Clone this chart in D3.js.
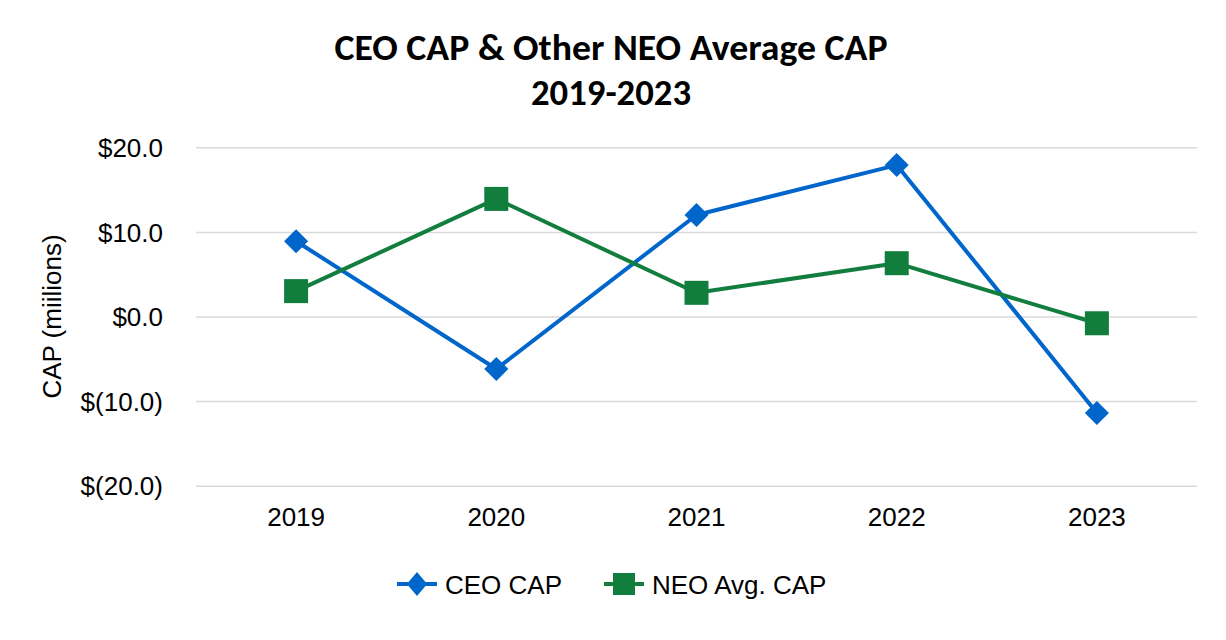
<!DOCTYPE html>
<html><head><meta charset="utf-8">
<script src="https://cdn.jsdelivr.net/npm/d3@7"></script>
<style>body{margin:0;background:#fff}svg{display:block}</style>
</head><body>
<svg id="c" width="1226" height="640"></svg>
<script>
const years = ["2019","2020","2021","2022","2023"];
const ceoCap = [8.9, -6.2, 12.0, 17.9, -11.4];
const neoAvgCap = [3.0, 13.9, 2.8, 6.3, -0.8];
const yTicks = [-20, -10, 0, 10, 20];
const seriesNames = ["CEO CAP", "NEO Avg. CAP"];

(function(){
const svg = d3.select("#c");
const pL = 196, pR = 1197, pT = 147.3, pB = 485.7;
const blue = "#0066CC", green = "#117E3E";
const font = "'Liberation Sans', Arial, sans-serif";

const x = d3.scaleBand().domain(years).range([pL, pR]).padding(0);
const y = d3.scaleLinear().domain([-20, 20]).range([pB, pT]);
const cx = d => x(d) + x.bandwidth() / 2;

// title
const t = svg.append("text").attr("x", 611).attr("text-anchor", "middle")
  .attr("font-family", "Carlito, Calibri, 'Open Sans', sans-serif").attr("font-weight", "bold")
  .attr("font-size", 36).attr("fill", "#000");
t.append("tspan").attr("x", 611).attr("y", 60).attr("textLength", 553).attr("lengthAdjust", "spacingAndGlyphs")
  .text("CEO CAP & Other NEO Average CAP");
t.append("tspan").attr("x", 611).attr("y", 105).attr("textLength", 160).attr("lengthAdjust", "spacingAndGlyphs")
  .text("2019-2023");

// grid
const yAxis = d3.axisLeft(y).tickValues(yTicks).tickSize(-(pR - pL)).tickPadding(33)
  .tickFormat(v => v < 0 ? "$(" + Math.abs(v).toFixed(1) + ")" : "$" + v.toFixed(1));
const gy = svg.append("g").attr("transform", `translate(${pL},0)`).call(yAxis);
gy.select(".domain").remove();
gy.selectAll(".tick line").attr("stroke", "#d9d9d9").attr("stroke-width", 1.5);
gy.selectAll(".tick text").attr("font-family", font)
  .attr("font-size", 26).attr("fill", "#000").attr("dy", "0.35em");

const xAxis = d3.axisBottom(x).tickSize(0).tickPadding(0);
const gx = svg.append("g").attr("transform", `translate(0,${pB})`).call(xAxis);
gx.select(".domain").remove();
gx.selectAll(".tick text").attr("font-family", font).attr("dy", null)
  .attr("y", 40).attr("font-size", 26).attr("fill", "#000");

// y title
svg.append("text").attr("transform", `translate(61,${(pT + pB) / 2}) rotate(-90)`)
  .attr("text-anchor", "middle").attr("font-family", font)
  .attr("font-size", 26).attr("fill", "#000").text("CAP (miilions)");

const line = d3.line().x((d, i) => cx(years[i])).y(d => y(d));

function drawSeries(vals, color, shape) {
  svg.append("path").datum(vals).attr("d", line).attr("fill", "none")
    .attr("stroke", color).attr("stroke-width", 4).attr("stroke-linejoin", "round");
  const g = svg.append("g");
  vals.forEach((v, i) => {
    if (shape === "diamond") {
      g.append("rect").attr("x", -8.5).attr("y", -8.5).attr("width", 17).attr("height", 17)
        .attr("fill", color).attr("transform", `translate(${cx(years[i])},${y(v)}) rotate(45)`);
    } else {
      g.append("rect").attr("x", cx(years[i]) - 12).attr("y", y(v) - 12)
        .attr("width", 24).attr("height", 24).attr("fill", color);
    }
  });
}
drawSeries(ceoCap, blue, "diamond");
drawSeries(neoAvgCap, green, "square");

// legend
const legY = 584;
function legend(x0, color, shape, label) {
  svg.append("line").attr("x1", x0).attr("x2", x0 + 40).attr("y1", legY).attr("y2", legY)
    .attr("stroke", color).attr("stroke-width", 4);
  if (shape === "diamond") {
    svg.append("rect").attr("x", -8).attr("y", -8).attr("width", 16).attr("height", 16)
      .attr("fill", color).attr("transform", `translate(${x0 + 20},${legY}) scale(0.9,1.05) rotate(45)`);
  } else {
    svg.append("rect").attr("x", x0 + 9).attr("y", legY - 11).attr("width", 22).attr("height", 22).attr("fill", color);
  }
  svg.append("text").attr("x", x0 + 48).attr("y", legY + 9.5)
    .attr("font-family", font).attr("font-size", 26)
    .attr("fill", "#000").text(label);
}
legend(397, blue, "diamond", seriesNames[0]);
legend(604, green, "square", seriesNames[1]);
})();
</script>
</body></html>
